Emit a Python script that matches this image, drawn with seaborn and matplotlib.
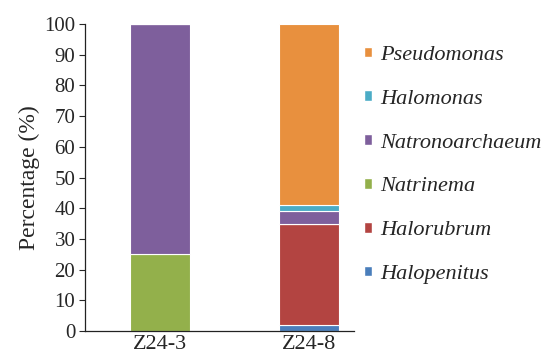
import numpy as np
import pandas as pd
import matplotlib.pyplot as plt
import seaborn as sns
from matplotlib.patches import Patch

samples = ['Z24-3', 'Z24-8']
genera = ['Halopenitus', 'Halorubrum', 'Natrinema', 'Natronoarchaeum', 'Halomonas', 'Pseudomonas']
halopenitus = [0, 2]
halorubrum = [0, 33]
natrinema = [25, 0]
natronoarchaeum = [75, 4]
halomonas = [0, 2]
pseudomonas = [0, 59]
colors = ['#4A7EBB', '#B34441', '#93B04B', '#7E5F9C', '#4BACC6', '#E8903E']

values = [halopenitus, halorubrum, natrinema, natronoarchaeum, halomonas, pseudomonas]

sns.set_style('ticks')
plt.rcParams['font.family'] = ['Liberation Serif', 'DejaVu Serif']

fig = plt.figure(figsize=(5.49, 3.58), dpi=100)
ax = fig.add_axes([0.155, 0.075, 0.49, 0.858])

bottom = np.zeros(len(samples))
for name, vals, c in zip(genera, values, colors):
    df = pd.DataFrame({'sample': samples, 'value': vals})
    sns.barplot(data=df, x='sample', y='value', color=c, saturation=1, bottom=bottom, width=0.4,
                edgecolor='white', linewidth=0.8, ax=ax, errorbar=None)
    bottom = bottom + np.array(vals)

ax.set_ylim(0, 100)
ax.set_yticks(range(0, 101, 10))
ax.set_xlim(-0.5, 1.3)
ax.set_xlabel('')
ax.set_ylabel('Percentage (%)', fontsize=17, labelpad=3)
ax.tick_params(axis='y', labelsize=15, length=4, width=0.8, direction='out', pad=3)
ax.tick_params(axis='x', labelsize=16, length=0, pad=3)
sns.despine(ax=ax)
for s in ['left', 'bottom']:
    ax.spines[s].set_linewidth(0.9)
    ax.spines[s].set_color('#222222')

handles = [Patch(facecolor=c, edgecolor='white') for c in colors][::-1]
labels = genera[::-1]
fig.legend(handles, labels, loc='upper left', bbox_to_anchor=(0.627, 0.928),
           frameon=False, prop={'style': 'italic', 'size': 16, 'family': 'Liberation Serif'},
           handlelength=0.35, handleheight=0.35, handletextpad=0.35, labelspacing=1.12)

fig.savefig('out.png', dpi=100)
